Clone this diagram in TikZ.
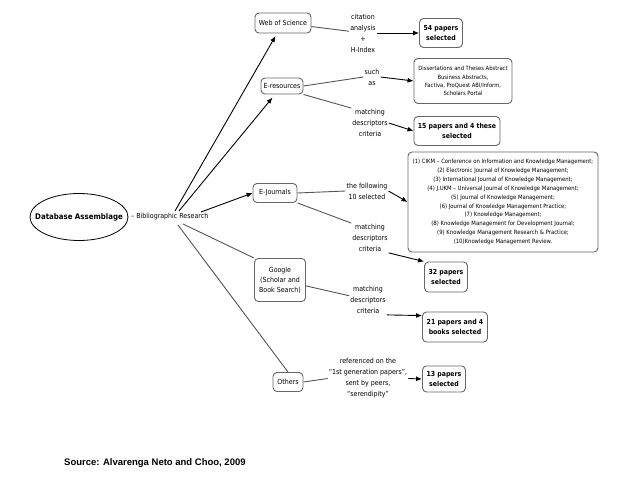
\documentclass[tikz,border=0pt]{standalone}
\usepackage{fontspec}
\setmainfont{DejaVu Sans Condensed}
\newfontfamily\srcfont{Liberation Sans}
\usetikzlibrary{arrows.meta,shapes.geometric,calc}
\definecolor{boxgray}{HTML}{666666}
\definecolor{linegray}{HTML}{555555}
\tikzset{
  box/.style={draw=boxgray, line width=0.9pt, rounded corners=4pt, align=center, inner sep=1pt, font=\fontsize{7}{9}\selectfont},
  resbox/.style={box, font=\fontsize{6.9}{10}\selectfont\bfseries},
  listbox/.style={box, font=\fontsize{5.9}{8.9}\selectfont},
  lbl/.style={align=center, inner sep=1pt, font=\fontsize{7}{11}\selectfont},
  conn/.style={draw=linegray, line width=0.9pt},
  arr/.style={draw=black, line width=0.9pt, -{Latex[length=6pt,width=5pt]}},
}
\begin{document}
\begin{tikzpicture}[x=1pt,y=-1pt]
\useasboundingbox (0,0) rectangle (638,479);
% root
\node[draw=black, line width=0.8pt, ellipse, minimum width=98pt, minimum height=47pt, inner xsep=-14pt, inner ysep=0pt, font=\fontsize{7.8}{10}\selectfont\bfseries] (root) at (79,217) {Database Assemblage};
\node[anchor=west, inner sep=0pt, font=\fontsize{7}{9}\selectfont] (bib) at (131,217) {-- Bibliographic Research};
\coordinate (ju1) at (175,211);
\coordinate (ju2) at (179,211);
\coordinate (jd1) at (178,225);
\coordinate (jd2) at (183,224);
\coordinate (jr) at (201,212);
% first-level boxes
\node[box, minimum width=56pt, minimum height=20pt] (wos) at (283,23) {Web of Science};
\node[box, minimum width=42pt, minimum height=16pt] (eres) at (282,86) {E-resources};
\node[box, minimum width=44pt, minimum height=19pt] (ej) at (275,193) {E-Journals};
\node[box, minimum width=51pt, minimum height=43pt, font=\fontsize{7}{10}\selectfont] (goog) at (280,280) {Google\\(Scholar and\\Book Search)};
\node[box, minimum width=30pt, minimum height=19pt] (oth) at (288,382) {Others};
% labels
\node[lbl] (cit) at (363,33) {citation\\analysis\\+\\H-Index};
\node[lbl] (such) at (372,77) {such\\as};
\node[lbl] (m1) at (370,123) {matching\\descriptors\\criteria};
\node[lbl] (foll) at (367,191) {the following\\10 selected};
\node[lbl] (m2) at (370,238) {matching\\descriptors\\criteria};
\node[lbl] (m3) at (368,300) {matching\\descriptors\\criteria};
\node[lbl] (ref) at (368,378.5) {referenced on the\\``1st generation papers'',\\sent by peers,\\``serendipity''};
% result boxes
\node[resbox, minimum width=43pt, minimum height=29pt] (p54) at (441,33) {54 papers\\selected};
\node[listbox, minimum width=98pt, minimum height=45pt, font=\fontsize{5.8}{8.2}\selectfont] (diss) at (463,81) {Dissertations and Theses Abstract\\Business Abstracts,\\Factiva, ProQuest ABI/Inform,\\Scholars Portal};
\node[resbox, minimum width=86pt, minimum height=29pt] (p15) at (457,131) {15 papers and 4 these\\selected};
\node[listbox, minimum width=190pt, minimum height=100pt] (list) at (503,202) {(1) CIKM -- Conference on Information and Knowledge Management;\\(2) Electronic Journal of Knowledge Management;\\(3) International Journal of Knowledge Management;\\(4) J.UKM -- Universal Journal of Knowledge Management;\\(5) Journal of Knowledge Management;\\(6) Journal of Knowledge Management Practice;\\(7) Knowledge Management;\\(8) Knowledge Management for Development Journal;\\(9) Knowledge Management Research \& Practice;\\(10)Knowledge Management Review.};
\node[resbox, minimum width=43pt, minimum height=30pt] (p32) at (446,277) {32 papers\\selected};
\node[resbox, minimum width=65pt, minimum height=30pt] (p21) at (455,327) {21 papers and 4\\books selected};
\node[resbox, minimum width=43pt, minimum height=26pt] (p13) at (444,379) {13 papers\\selected};
% source
\node[anchor=west, inner sep=0pt, font=\srcfont\fontsize{9.5}{11}\selectfont\bfseries] (src) at (64,463) {Source: Alvarenga Neto and Choo, 2009};
% root connectors
\draw[arr, shorten >=3pt] (ju1) -- (wos);
\draw[arr, shorten >=4pt] (ju2) -- (eres);
\draw[arr] (jr) -- (ej.west);
\draw[conn] (jd2) -- (goog.north west);
\draw[conn] (jd1) -- (oth.north);
% box to label
\draw[conn] (wos) -- (cit);
\draw[conn] (eres.east) -- (such.west);
\draw[conn] (eres.south east) -- (m1.north west);
\draw[conn] (ej.east) -- (foll.west);
\draw[conn] (ej.south east) -- (m2.north west);
\draw[conn] (goog) -- (m3);
\draw[conn] (oth.east) -- (ref.west);
% label to result
\draw[arr] (cit.east) -- (p54.west);
\draw[arr] (such.east) -- (diss.west);
\draw[arr] (m1.east) -- (p15.west);
\draw[arr] (foll.east) -- (list.west);
\draw[arr] (m2.south east) -- (p32.north west);
\draw[arr] (m3.south east) -- ($(p21.north west)+(0,4)$);
\draw[arr] (ref.east) -- (p13.west);
\end{tikzpicture}
\end{document}
